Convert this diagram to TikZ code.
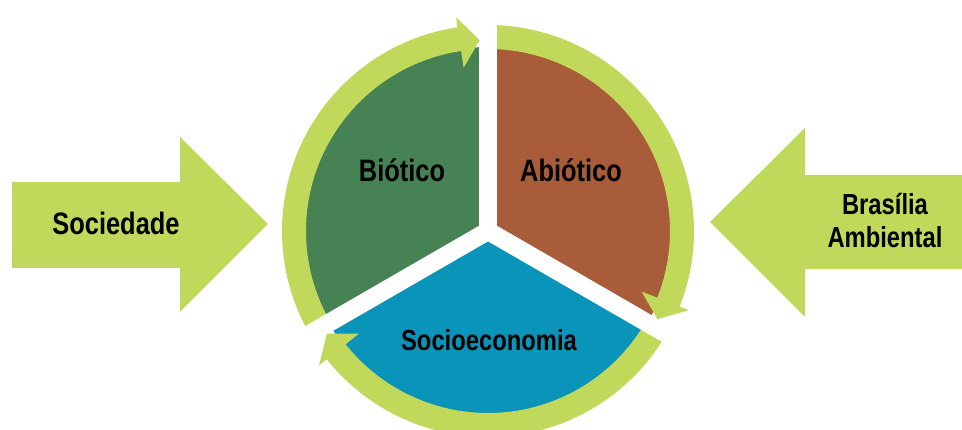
\documentclass[tikz,border=0pt]{standalone}
\usepackage{fontspec}
\setmainfont{Liberation Sans}[FakeStretch=0.82]
\definecolor{verdeclaro}{HTML}{C0D95B}
\definecolor{corbiotico}{HTML}{468253}
\definecolor{corabiotico}{HTML}{A95C39}
\definecolor{corsocio}{HTML}{0A94BA}

\begin{document}
\begin{tikzpicture}
[x=1pt, y=1pt,
anel/.style={draw=verdeclaro, line width=24pt},
ponta/.style={fill=verdeclaro},
corte/.style={draw=white, line width=18pt},
rotulo/.style={font=\fontsize{31}{33}\selectfont\bfseries, text=black, inner sep=0pt, anchor=base},
rotulomenor/.style={rotulo, font=\fontsize{29}{33}\selectfont\bfseries}]
\useasboundingbox (0,0) rectangle (962,430);
% setas laterais
\fill[verdeclaro] (12,162) -- (180,162) -- (180,118) -- (268,206) -- (180,293) -- (180,248) -- (12,248) -- cycle;
\fill[verdeclaro] (962,161) -- (805,161) -- (805,113) -- (710,208) -- (805,302) -- (805,255) -- (962,255) -- cycle;
\begin{scope}[shift={(488,199)}]
\coordinate (centro) at (0,0);
% setores
\fill[corbiotico] (centro) -- (90:184) arc[start angle=90, end angle=210, radius=184] -- cycle;
\fill[corabiotico] (centro) -- (-30:184) arc[start angle=-30, end angle=90, radius=184] -- cycle;
\fill[corsocio] (centro) -- (210:184) arc[start angle=210, end angle=330, radius=184] -- cycle;
% anel
\draw[anel] (210:194) arc[start angle=210, end angle=97.5, radius=194];
\draw[anel] (90:194) arc[start angle=90, end angle=-22.5, radius=194];
\draw[anel] (-30:194) arc[start angle=-30, end angle=-142.5, radius=194];
% cortes
\draw[corte] (centro) -- (90:235);
\draw[corte] (centro) -- (-30:235);
\draw[corte] (centro) -- (210:235);
% pontas
\fill[ponta] (98.5:165) -- (92.5:191) -- (98.5:216) -- cycle;
\fill[ponta] (-21.5:165) -- (-27.5:191) -- (-21.5:216) -- cycle;
\fill[ponta] (-141.5:165) -- (-147.5:191) -- (-141.5:216) -- cycle;
\end{scope}
% textos
\node[rotulo] (sociedade) at (116,195.5) {Sociedade};
\node[rotulo] (biotico) at (402,248) {Biótico};
\node[rotulo] (abiotico) at (571,248) {Abiótico};
\node[rotulomenor] (socioeconomia) at (489,79.5) {Socioeconomia};
\node[rotulomenor, align=center] (brasilia) at (885,182) {Brasília\\Ambiental};
\end{tikzpicture}
\end{document}
